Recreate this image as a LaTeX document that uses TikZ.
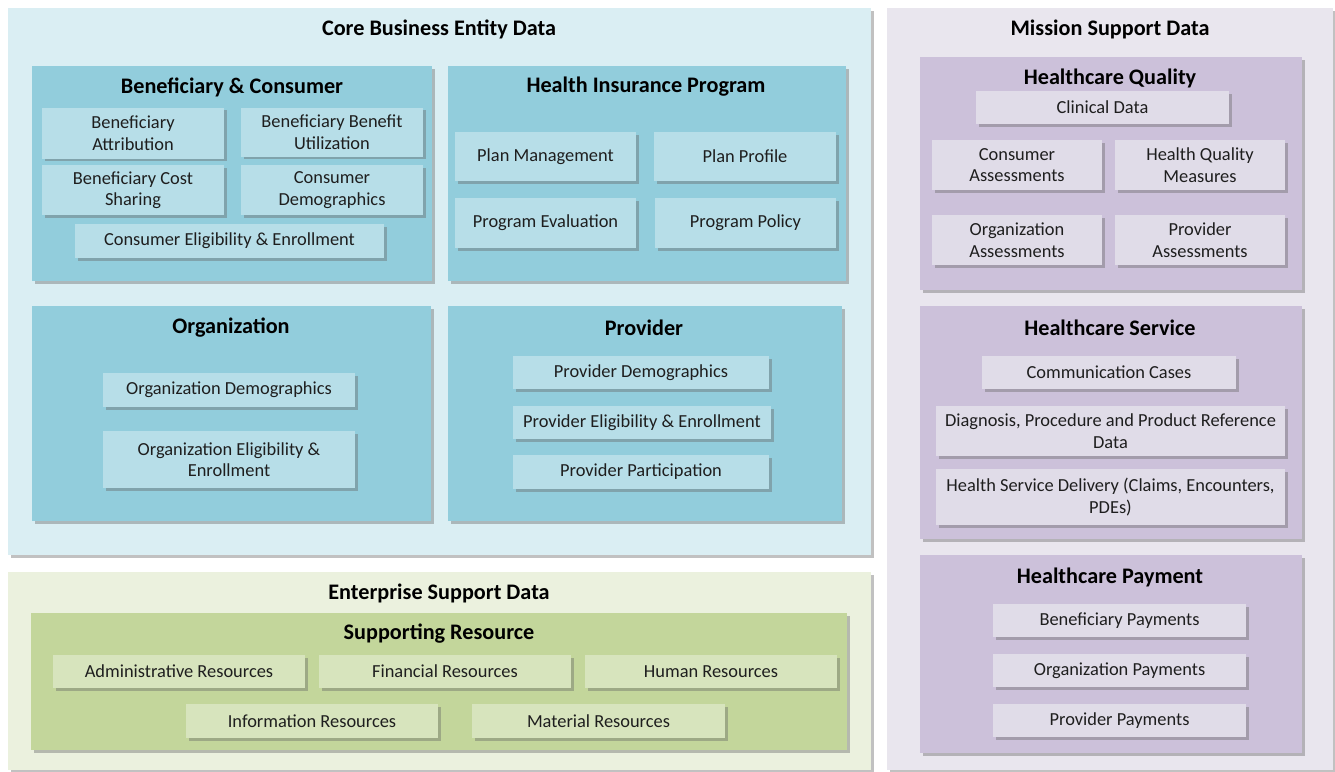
\documentclass[tikz,border=0pt]{standalone}
\usepackage{fontspec}
\setmainfont{Carlito}
\usetikzlibrary{shadows}
\definecolor{coreBg}{HTML}{DAEEF3}
\definecolor{misBg}{HTML}{E9E6EE}
\definecolor{entBg}{HTML}{EBF1DE}
\definecolor{blueG}{HTML}{92CDDC}
\definecolor{blueI}{HTML}{B7DEE8}
\definecolor{purG}{HTML}{CCC1DA}
\definecolor{purI}{HTML}{E0DCE8}
\definecolor{grnG}{HTML}{C3D69B}
\definecolor{grnI}{HTML}{D7E4BD}
\definecolor{txt}{HTML}{1E1E1E}
\tikzset{
  shad/.style={drop shadow={shadow xshift=2.5pt,shadow yshift=-2.5pt,opacity=0.4,fill=black!60}},
  area/.style={shad, anchor=north west, inner sep=0pt},
  grp/.style={shad, anchor=north west, inner sep=0pt},
  item/.style={shad, inner sep=0pt, align=center, text=txt, font=\fontsize{18.4}{21.5}\selectfont},
  ttl/.style={font=\bfseries\fontsize{22.2}{26}\selectfont, text=black},
  bi/.style={item, fill=blueI},
  pi/.style={item, fill=purI},
  gi/.style={item, fill=grnI},
}
\begin{document}
\begin{tikzpicture}[x=1pt,y=-1pt]
\useasboundingbox[fill=white] (0,0) rectangle (1335,771);
% outer areas
\node[area, fill=coreBg, minimum width=863pt, minimum height=547pt] (core) at (8,8) {};
\node[area, fill=misBg, minimum width=446pt, minimum height=762pt] (mis) at (887,8) {};
\node[area, fill=entBg, minimum width=863pt, minimum height=198pt] (ent) at (8,572) {};
\node[ttl] (coreT) at (439,29) {Core Business Entity Data};
\node[ttl] (misT) at (1110,29) {Mission Support Data};
\node[ttl] (entT) at (439,593) {Enterprise Support Data};
% blue groups
\node[grp, fill=blueG, minimum width=400pt, minimum height=215pt] (bc) at (32,66) {};
\node[grp, fill=blueG, minimum width=398pt, minimum height=215pt] (hip) at (448,66) {};
\node[grp, fill=blueG, minimum width=399pt, minimum height=215pt] (org) at (32,306) {};
\node[grp, fill=blueG, minimum width=394pt, minimum height=215pt] (prov) at (448,306) {};
\node[ttl] (bcT) at (232,87) {Beneficiary \& Consumer};
\node[ttl] (hipT) at (646,87) {Health Insurance Program};
\node[ttl] (orgT) at (231,328) {Organization};
\node[ttl] (provT) at (644,328) {Provider};
% beneficiary items
\node[bi, minimum width=182pt, minimum height=51pt] (b1) at (133,133) {Beneficiary\\Attribution};
\node[bi, minimum width=182pt, minimum height=49pt] (b2) at (332,132) {Beneficiary Benefit\\Utilization};
\node[bi, minimum width=182pt, minimum height=50pt] (b3) at (133,190) {Beneficiary Cost\\Sharing};
\node[bi, minimum width=182pt, minimum height=50pt] (b4) at (332,190) {Consumer\\Demographics};
\node[bi, minimum width=309pt, minimum height=34pt] (b5) at (229.5,241) {Consumer Eligibility \& Enrollment};
% HIP items
\node[bi, minimum width=181pt, minimum height=49pt] (h1) at (545.5,156.5) {Plan Management};
\node[bi, minimum width=182pt, minimum height=49pt] (h2) at (745,156.5) {Plan Profile};
\node[bi, minimum width=181pt, minimum height=50pt] (h3) at (545.5,223) {Program Evaluation};
\node[bi, minimum width=181pt, minimum height=50pt] (h4) at (745.5,223) {Program Policy};
% organization items
\node[bi, minimum width=252pt, minimum height=34pt] (o1) at (229,390) {Organization Demographics};
\node[bi, minimum width=252pt, minimum height=57pt] (o2) at (229,459.5) {Organization Eligibility \&\\Enrollment};
% provider items
\node[bi, minimum width=256pt, minimum height=33pt] (p1) at (641,372.5) {Provider Demographics};
\node[bi, minimum width=258pt, minimum height=33pt] (p2) at (642,422.5) {Provider Eligibility \& Enrollment};
\node[bi, minimum width=256pt, minimum height=34pt] (p3) at (641,472) {Provider Participation};
% purple groups
\node[grp, fill=purG, minimum width=382pt, minimum height=233pt] (hq) at (920,57) {};
\node[grp, fill=purG, minimum width=382pt, minimum height=233pt] (hs) at (920,306) {};
\node[grp, fill=purG, minimum width=382pt, minimum height=198pt] (hpay) at (920,555) {};
\node[ttl] (hqT) at (1110,78) {Healthcare Quality};
\node[ttl] (hsT) at (1110,328) {Healthcare Service};
\node[ttl] (hpayT) at (1110,577) {Healthcare Payment};
% quality items
\node[pi, minimum width=253pt, minimum height=33pt] (q1) at (1102.5,107.5) {Clinical Data};
\node[pi, minimum width=170pt, minimum height=50pt] (q2) at (1017,165) {Consumer\\Assessments};
\node[pi, minimum width=170pt, minimum height=50pt] (q3) at (1200,165) {Health Quality\\Measures};
\node[pi, minimum width=170pt, minimum height=50pt] (q4) at (1017,240) {Organization\\Assessments};
\node[pi, minimum width=170pt, minimum height=50pt] (q5) at (1200,240) {Provider\\Assessments};
% service items
\node[pi, minimum width=254pt, minimum height=33pt] (s1) at (1109,372.5) {Communication Cases};
\node[pi, minimum width=349pt, minimum height=50pt] (s2) at (1110.5,431) {Diagnosis, Procedure and Product Reference\\Data};
\node[pi, minimum width=349pt, minimum height=56pt] (s3) at (1110.5,497) {Health Service Delivery (Claims, Encounters,\\PDEs)};
% payment items
\node[pi, minimum width=253pt, minimum height=33pt] (y1) at (1119.5,620.5) {Beneficiary Payments};
\node[pi, minimum width=253pt, minimum height=33pt] (y2) at (1119.5,670.5) {Organization Payments};
\node[pi, minimum width=253pt, minimum height=33pt] (y3) at (1119.5,720.5) {Provider Payments};
% enterprise
\node[grp, fill=grnG, minimum width=816pt, minimum height=137pt] (sr) at (31,613) {};
\node[ttl] (srT) at (439,634) {Supporting Resource};
\node[gi, minimum width=252pt, minimum height=33pt] (e1) at (179,671.5) {Administrative Resources};
\node[gi, minimum width=252pt, minimum height=33pt] (e2) at (445,671.5) {Financial Resources};
\node[gi, minimum width=252pt, minimum height=33pt] (e3) at (711,671.5) {Human Resources};
\node[gi, minimum width=252pt, minimum height=34pt] (e4) at (312,721) {Information Resources};
\node[gi, minimum width=253pt, minimum height=34pt] (e5) at (598.5,721) {Material Resources};
\end{tikzpicture}
\end{document}
